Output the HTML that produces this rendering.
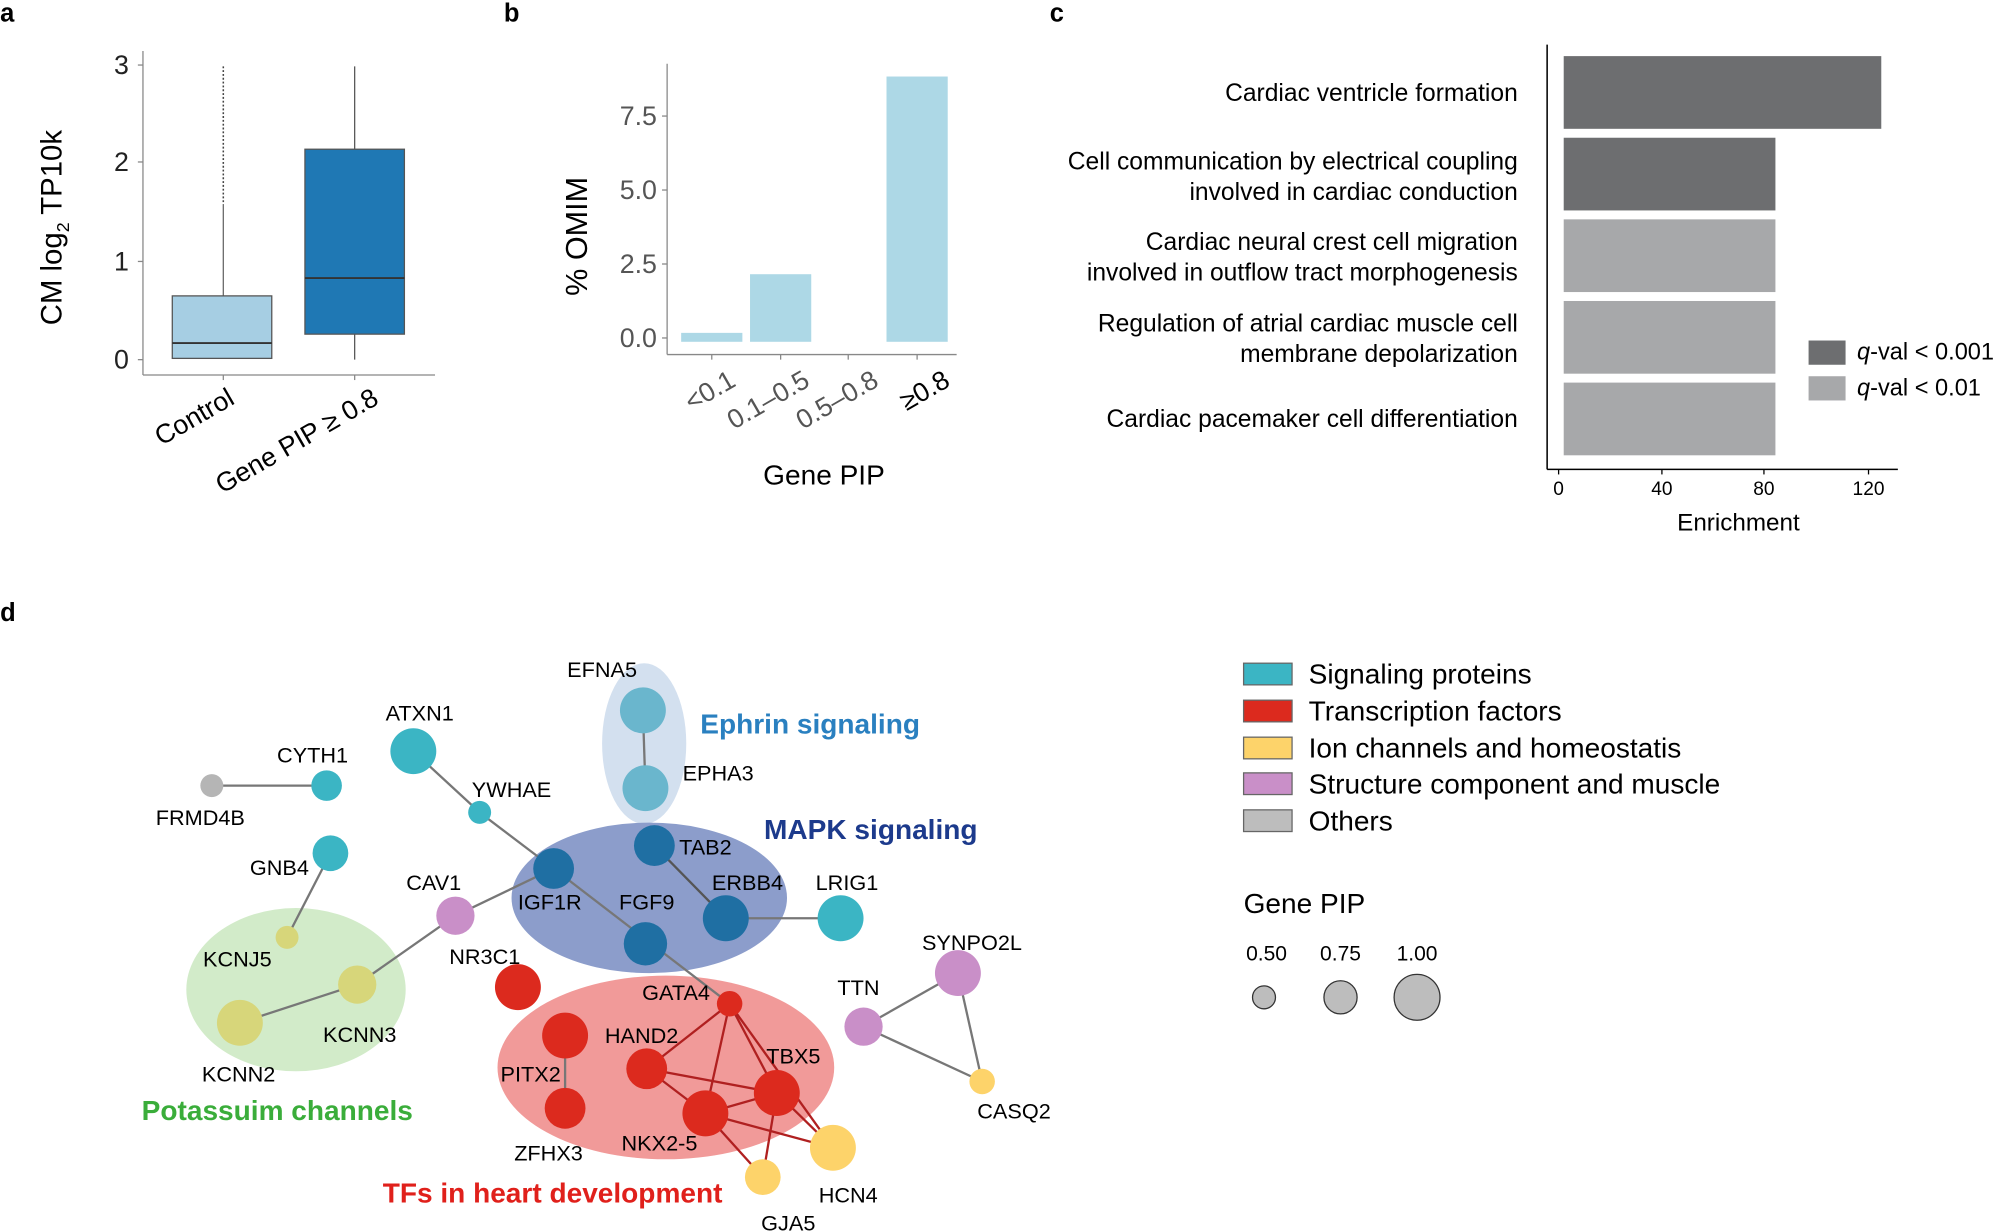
<!DOCTYPE html>
<html><head><meta charset="utf-8"><style>
html,body{margin:0;padding:0;background:#fff}
svg{display:block;font-family:"Liberation Sans",sans-serif}
</style></head><body>
<svg width="2000" height="1232" viewBox="0 0 1568 966" xmlns="http://www.w3.org/2000/svg">
<rect width="1568" height="966" fill="#fff"/>
<g font-weight="bold" font-size="20" fill="#000">
<text x="0" y="17">a</text><text x="395" y="17">b</text><text x="823" y="17">c</text><text x="0" y="487">d</text>
</g>
<!-- panel a -->
<g>
<line x1="112" y1="40" x2="112" y2="294" stroke="#888"/>
<line x1="112" y1="294" x2="341" y2="294" stroke="#888"/>
<g font-size="21" fill="#222" text-anchor="end">
<text x="101" y="289">0</text><text x="101" y="212">1</text><text x="101" y="134">2</text><text x="101" y="58">3</text>
</g>
<g stroke="#888"><line x1="108" y1="282" x2="112" y2="282"/><line x1="108" y1="205" x2="112" y2="205"/><line x1="108" y1="127" x2="112" y2="127"/><line x1="108" y1="51" x2="112" y2="51"/>
<line x1="175" y1="294" x2="175" y2="298"/><line x1="278" y1="294" x2="278" y2="298"/></g>
<line x1="175" y1="52" x2="175" y2="160" stroke="#444" stroke-width="1.2" stroke-dasharray="1.5 1.5"/>
<line x1="175" y1="160" x2="175" y2="232" stroke="#666"/>
<rect x="135" y="232" width="78" height="49" fill="#a6cee3" stroke="#555"/>
<line x1="135" y1="269" x2="213" y2="269" stroke="#333" stroke-width="1.5"/>
<line x1="278" y1="52" x2="278" y2="282" stroke="#555"/>
<rect x="239" y="117" width="78" height="145" fill="#1f78b4" stroke="#555"/>
<line x1="239" y1="218" x2="317" y2="218" stroke="#333" stroke-width="1.5"/>
<text transform="translate(48,255) rotate(-90)" font-size="23" fill="#000">CM log<tspan font-size="14" dy="6">2</tspan><tspan dy="-6"> TP10k</tspan></text>
<g font-size="21" fill="#000" text-anchor="end">
<text transform="translate(185,316) rotate(-30)">Control</text>
<text transform="translate(298,316) rotate(-30)">Gene PIP ≥ 0.8</text>
</g>
</g>
<!-- panel b -->
<g>
<line x1="523" y1="50" x2="523" y2="278" stroke="#888"/>
<line x1="523" y1="278" x2="750" y2="278" stroke="#888"/>
<g font-size="21" fill="#555" text-anchor="end">
<text x="515" y="272">0.0</text><text x="515" y="214">2.5</text><text x="515" y="156">5.0</text><text x="515" y="98">7.5</text>
</g>
<g stroke="#888"><line x1="519" y1="265" x2="523" y2="265"/><line x1="519" y1="207" x2="523" y2="207"/><line x1="519" y1="149" x2="523" y2="149"/><line x1="519" y1="91" x2="523" y2="91"/>
<line x1="558" y1="278" x2="558" y2="282"/><line x1="612" y1="278" x2="612" y2="282"/><line x1="665" y1="278" x2="665" y2="282"/><line x1="719" y1="278" x2="719" y2="282"/></g>
<g fill="#add8e6">
<rect x="534" y="261" width="48" height="7"/><rect x="588" y="215" width="48" height="53"/><rect x="695" y="60" width="48" height="208"/>
</g>
<text transform="translate(460,232) rotate(-90)" font-size="24" fill="#000">% OMIM</text>
<g font-size="21" fill="#555" text-anchor="end">
<text transform="translate(578,302) rotate(-30)">&lt;0.1</text>
<text transform="translate(636,302) rotate(-30)">0.1–0.5</text>
<text transform="translate(690,302) rotate(-30)">0.5–0.8</text>
<text transform="translate(746,302) rotate(-30)" fill="#000">≥0.8</text>
</g>
<text x="646" y="380" font-size="22" text-anchor="middle" fill="#000">Gene PIP</text>
</g>
<!-- panel c -->
<g>
<line x1="1213" y1="35" x2="1213" y2="368" stroke="#000" stroke-width="1.2"/>
<line x1="1213" y1="368" x2="1488" y2="368" stroke="#000" stroke-width="1.2"/>
<rect x="1226" y="44" width="249" height="57" fill="#6d6e70"/>
<rect x="1226" y="108" width="166" height="57" fill="#6d6e70"/>
<rect x="1226" y="172" width="166" height="57" fill="#a7a8aa"/>
<rect x="1226" y="236" width="166" height="57" fill="#a7a8aa"/>
<rect x="1226" y="300" width="166" height="57" fill="#a7a8aa"/>
<g stroke="#000"><line x1="1222" y1="368" x2="1222" y2="372"/><line x1="1303" y1="368" x2="1303" y2="372"/><line x1="1383" y1="368" x2="1383" y2="372"/><line x1="1465" y1="368" x2="1465" y2="372"/></g>
<g font-size="15" text-anchor="middle" fill="#000"><text x="1222" y="388">0</text><text x="1303" y="388">40</text><text x="1383" y="388">80</text><text x="1465" y="388">120</text></g>
<text x="1363" y="416" font-size="19" text-anchor="middle">Enrichment</text>
<g font-size="19.3" text-anchor="end" fill="#000">
<text x="1190" y="79">Cardiac ventricle formation</text>
<text x="1190" y="133">Cell communication by electrical coupling</text>
<text x="1190" y="157">involved in cardiac conduction</text>
<text x="1190" y="196">Cardiac neural crest cell migration</text>
<text x="1190" y="220">involved in outflow tract morphogenesis</text>
<text x="1190" y="260">Regulation of atrial cardiac muscle cell</text>
<text x="1190" y="284">membrane depolarization</text>
<text x="1190" y="335">Cardiac pacemaker cell differentiation</text>
</g>
<rect x="1418" y="267" width="29" height="19" fill="#6d6e70"/>
<rect x="1418" y="295" width="29" height="19" fill="#a7a8aa"/>
<g font-size="18.5"><text x="1456" y="282"><tspan font-style="italic">q</tspan>-val &lt; 0.001</text><text x="1456" y="310"><tspan font-style="italic">q</tspan>-val &lt; 0.01</text></g>
</g>
<!-- panel d -->
<g>
<ellipse cx="505" cy="583" rx="33" ry="63" fill="#d3e0ef"/>
<ellipse cx="509" cy="704" rx="108" ry="59" fill="#8c9dcb"/>
<ellipse cx="232" cy="776" rx="86" ry="64" fill="#d2ebc9"/>
<ellipse cx="522" cy="837" rx="132" ry="72" fill="#f19a99"/>
<g stroke="#777" stroke-width="1.8" fill="none">
<line x1="166" y1="616" x2="256" y2="616"/>
<line x1="324" y1="589" x2="376" y2="637"/>
<line x1="376" y1="637" x2="434" y2="681"/>
<line x1="434" y1="681" x2="572" y2="787"/>
<line x1="357" y1="718" x2="434" y2="681"/>
<line x1="357" y1="718" x2="280" y2="772"/>
<line x1="280" y1="772" x2="188" y2="802"/>
<line x1="259" y1="669" x2="225" y2="735"/>
<line x1="504" y1="557" x2="506" y2="618"/>
<line x1="513" y1="663" x2="569" y2="720" stroke="#555"/>
<line x1="569" y1="720" x2="659" y2="720"/>
<line x1="677" y1="805" x2="751" y2="763"/>
<line x1="677" y1="805" x2="770" y2="848"/>
<line x1="751" y1="763" x2="770" y2="848"/>
<line x1="443" y1="812" x2="443" y2="869"/>
<g stroke="#b02020"><line x1="572" y1="787" x2="507" y2="838"/><line x1="572" y1="787" x2="609" y2="857"/><line x1="572" y1="787" x2="553" y2="873"/>
<line x1="507" y1="838" x2="609" y2="857"/><line x1="507" y1="838" x2="553" y2="873"/><line x1="553" y1="873" x2="609" y2="857"/>
<line x1="553" y1="873" x2="598" y2="923"/><line x1="553" y1="873" x2="653" y2="900"/><line x1="609" y1="857" x2="598" y2="923"/><line x1="609" y1="857" x2="653" y2="900"/><line x1="572" y1="787" x2="653" y2="900"/></g>
</g>
<g>
<circle cx="166" cy="616" r="9" fill="#b5b5b5"/>
<circle cx="256" cy="616" r="12" fill="#3bb5c4"/>
<circle cx="324" cy="589" r="18" fill="#3bb5c4"/>
<circle cx="376" cy="637" r="9" fill="#3bb5c4"/>
<circle cx="259" cy="669" r="14" fill="#3bb5c4"/>
<circle cx="659" cy="720" r="18" fill="#3bb5c4"/>
<circle cx="504" cy="557" r="18" fill="#6ab6cd"/>
<circle cx="506" cy="618" r="18" fill="#6ab6cd"/>
<circle cx="513" cy="663" r="16" fill="#1f6fa3"/>
<circle cx="434" cy="681" r="16" fill="#1f6fa3"/>
<circle cx="569" cy="720" r="18" fill="#1f6fa3"/>
<circle cx="506" cy="740" r="17" fill="#1f6fa3"/>
<circle cx="357" cy="718" r="15" fill="#c98fc8"/>
<circle cx="751" cy="763" r="18" fill="#c98fc8"/>
<circle cx="677" cy="805" r="15" fill="#c98fc8"/>
<circle cx="225" cy="735" r="9" fill="#d7d67a"/>
<circle cx="280" cy="772" r="15" fill="#d7d67a"/>
<circle cx="188" cy="802" r="18" fill="#d7d67a"/>
<circle cx="406" cy="774" r="18" fill="#dc2a1e"/>
<circle cx="572" cy="787" r="10" fill="#dc2a1e"/>
<circle cx="443" cy="812" r="18" fill="#dc2a1e"/>
<circle cx="507" cy="838" r="16" fill="#dc2a1e"/>
<circle cx="609" cy="857" r="18" fill="#dc2a1e"/>
<circle cx="553" cy="873" r="18" fill="#dc2a1e"/>
<circle cx="443" cy="869" r="16" fill="#dc2a1e"/>
<circle cx="653" cy="900" r="18" fill="#fdd36a"/>
<circle cx="598" cy="923" r="14" fill="#fdd36a"/>
<circle cx="770" cy="848" r="10" fill="#fdd36a"/>
</g>
<g font-size="17" fill="#000" text-anchor="middle">
<text x="472" y="531">EFNA5</text><text x="563" y="612">EPHA3</text>
<text x="329" y="565">ATXN1</text><text x="245" y="598">CYTH1</text><text x="157" y="647">FRMD4B</text>
<text x="401" y="625">YWHAE</text><text x="219" y="686">GNB4</text><text x="340" y="698">CAV1</text>
<text x="553" y="670">TAB2</text><text x="431" y="713">IGF1R</text><text x="507" y="713">FGF9</text><text x="586" y="698">ERBB4</text><text x="664" y="698">LRIG1</text>
<text x="380" y="756">NR3C1</text><text x="186" y="758">KCNJ5</text><text x="282" y="817">KCNN3</text><text x="187" y="848">KCNN2</text>
<text x="530" y="784">GATA4</text><text x="503" y="818">HAND2</text><text x="622" y="834">TBX5</text><text x="416" y="848">PITX2</text>
<text x="517" y="902">NKX2-5</text><text x="430" y="910">ZFHX3</text><text x="665" y="943">HCN4</text><text x="618" y="965">GJA5</text>
<text x="762" y="745">SYNPO2L</text><text x="673" y="780">TTN</text><text x="795" y="877">CASQ2</text>
</g>
<g font-size="22" font-weight="bold">
<text x="549" y="575" fill="#2a80c0">Ephrin signaling</text>
<text x="599" y="658" fill="#1c3a8c">MAPK signaling</text>
<text x="111" y="878" fill="#3aad3a">Potassuim channels</text>
<text x="300" y="943" fill="#e0201b">TFs in heart development</text>
</g>
<g stroke="#666">
<rect x="975" y="520" width="38" height="17" fill="#3bb5c4"/>
<rect x="975" y="549" width="38" height="17" fill="#dc2a1e"/>
<rect x="975" y="578" width="38" height="17" fill="#fdd36a"/>
<rect x="975" y="606" width="38" height="17" fill="#c98fc8"/>
<rect x="975" y="635" width="38" height="17" fill="#bdbdbd"/>
</g>
<g font-size="22" fill="#000">
<text x="1026" y="536">Signaling proteins</text>
<text x="1026" y="565">Transcription factors</text>
<text x="1026" y="594">Ion channels and homeostatis</text>
<text x="1026" y="622">Structure component and muscle</text>
<text x="1026" y="651">Others</text>
<text x="975" y="716">Gene PIP</text>
</g>
<g font-size="16.5" text-anchor="middle"><text x="993" y="753">0.50</text><text x="1051" y="753">0.75</text><text x="1111" y="753">1.00</text></g>
<g fill="#bdbdbd" stroke="#333">
<circle cx="991" cy="782" r="9"/><circle cx="1051" cy="782" r="13"/><circle cx="1111" cy="782" r="18"/>
</g>
</g>
</svg>
</body></html>
